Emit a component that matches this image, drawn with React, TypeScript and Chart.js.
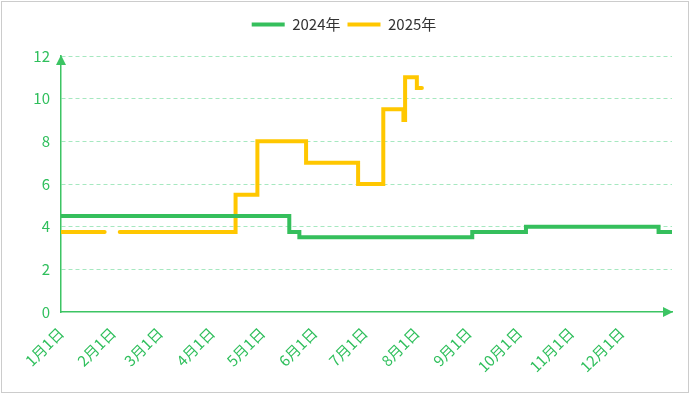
import React, { useEffect, useRef } from "react";
import { Chart, registerables } from "chart.js";

Chart.register(...registerables);

// ---- data ----
const monthLabels = ["1月1日", "2月1日", "3月1日", "4月1日", "5月1日", "6月1日", "7月1日", "8月1日", "9月1日", "10月1日", "11月1日", "12月1日"];
const seriesNames = ["2024年", "2025年"];

// change dates (M-D) and the value that applies from that date on
const dates2024 = ["1-1", "5-17", "5-23", "9-3", "10-5", "12-23", "12-31"];
const values2024 = [4.5, 3.75, 3.5, 3.75, 4.0, 3.75, 3.75];

const dates2025 = ["1-1", "1-27", "1-28", "2-5", "4-15", "4-28", "5-27", "6-27", "7-12", "7-24", "7-25", "8-1", "8-4"];
const values2025 = [3.75, 3.75, null, 3.75, 5.5, 8, 7, 6, 9.5, 9, 11, 10.5, 10.5];

const yTicks = [0, 2, 4, 6, 8, 10, 12];

// ---- helpers ----
const monthDays = [31, 28, 31, 30, 31, 30, 31, 31, 30, 31, 30, 31];
const monthStart: number[] = [];
{
  let acc = 0;
  for (const d of monthDays) {
    monthStart.push(acc);
    acc += d;
  }
}
const dayOfYear = (s: string) => {
  const [m, d] = s.split("-").map(Number);
  return monthStart[m - 1] + d - 1;
};
const toPoints = (dates: string[], values: (number | null)[]) =>
  dates.map((s, i) => ({ x: dayOfYear(s), y: values[i] }));

const GREEN = "#35bf5c";
const YELLOW = "#ffc700";
const AXIS = "#3cc463";
const TICK = "#2fbf5c";
const GRID = "#a6e8c0";
const FONT = "'Noto Sans CJK SC', 'Noto Sans', sans-serif";

const arrowPlugin = {
  id: "axisArrows",
  afterDraw(chart: any) {
    const { ctx, chartArea } = chart;
    const x0 = chartArea.left;
    const y0 = chartArea.bottom;
    ctx.save();
    ctx.fillStyle = AXIS;
    // y arrow
    ctx.beginPath();
    ctx.moveTo(x0, chartArea.top - 1);
    ctx.lineTo(x0 - 5, chartArea.top + 9);
    ctx.lineTo(x0 + 5, chartArea.top + 9);
    ctx.closePath();
    ctx.fill();
    // x arrow
    const tip = chartArea.right + 1;
    ctx.beginPath();
    ctx.moveTo(tip, y0);
    ctx.lineTo(tip - 10, y0 - 5);
    ctx.lineTo(tip - 10, y0 + 5);
    ctx.closePath();
    ctx.fill();
    ctx.restore();
  },
};

const legendSpacer = {
  id: "legendSpacer",
  beforeInit(chart: any) {
    const legend = chart.legend;
    if (!legend) return;
    const orig = legend.fit;
    legend.fit = function () {
      orig.call(this);
      this.height = 46;
    };
  },
  afterLayout(chart: any) {
    const legend = chart.legend;
    if (!legend) return;
    legend.left = 8;
    legend.right = 8 + legend.width;
  },
};

export default function App() {
  const ref = useRef<HTMLCanvasElement | null>(null);

  useEffect(() => {
    if (!ref.current) return;
    const chart = new Chart(ref.current, {
      type: "line",
      data: {
        datasets: [
          {
            label: seriesNames[0],
            data: toPoints(dates2024, values2024),
            borderColor: GREEN,
            backgroundColor: GREEN,
            borderWidth: 4,
            stepped: true,
            pointRadius: 0,
            borderCapStyle: "round",
            borderJoinStyle: "miter",
            spanGaps: false,
          },
          {
            label: seriesNames[1],
            data: toPoints(dates2025, values2025),
            borderColor: YELLOW,
            backgroundColor: YELLOW,
            borderWidth: 4,
            stepped: true,
            pointRadius: 0,
            borderCapStyle: "round",
            borderJoinStyle: "miter",
            spanGaps: false,
          },
        ],
      },
      options: {
        responsive: false,
        animation: false,
        layout: { padding: { top: 10, right: 21, bottom: 0, left: 0 } },
        plugins: {
          legend: {
            position: "top",
            labels: {
              usePointStyle: true,
              pointStyle: "line",
              pointStyleWidth: 33,
              color: "#333",
              font: { size: 15, family: FONT },
              padding: 7,
            },
          },
          tooltip: { enabled: false },
        },
        scales: {
          x: {
            type: "linear",
            min: 0,
            max: 364,
            afterBuildTicks: (scale: any) => {
              scale.ticks = monthStart.map((v) => ({ value: v }));
            },
            afterFit: (scale: any) => {
              scale.height = 83;
            },
            grid: { display: false, drawTicks: false },
            border: { display: true, color: AXIS, width: 1.5 },
            ticks: {
              autoSkip: false,
              minRotation: 45,
              maxRotation: 45,
              padding: 12,
              color: TICK,
              font: { size: 15, family: FONT },
              callback: (value: any) => monthLabels[monthStart.indexOf(Number(value))] ?? "",
            },
          },
          y: {
            min: 0,
            max: 12,
            afterBuildTicks: (scale: any) => {
              scale.ticks = yTicks.map((v) => ({ value: v }));
            },
            afterFit: (scale: any) => {
              scale.width = 61;
            },
            grid: {
              drawTicks: false,
              color: (c: any) => (c.tick && c.tick.value === 0 ? "rgba(0,0,0,0)" : GRID),
              lineWidth: 1,
            },
            border: { display: true, color: AXIS, width: 1.5, dash: [4, 3] },
            ticks: {
              padding: 11,
              color: TICK,
              font: { size: 15, family: FONT },
            },
          },
        },
      },
      plugins: [arrowPlugin, legendSpacer],
    } as any);
    return () => chart.destroy();
  }, []);

  return (
    <div style={{ position: "fixed", left: 0, top: 0, width: 693, height: 395, background: "#fff" }}>
      <canvas ref={ref} width={693} height={395} style={{ position: "absolute", left: 0, top: 0 }} />
      <div
        style={{
          position: "absolute",
          left: 1,
          top: 1,
          width: 688,
          height: 392,
          border: "1px solid #cccccc",
          boxSizing: "border-box",
          pointerEvents: "none",
        }}
      />
    </div>
  );
}
